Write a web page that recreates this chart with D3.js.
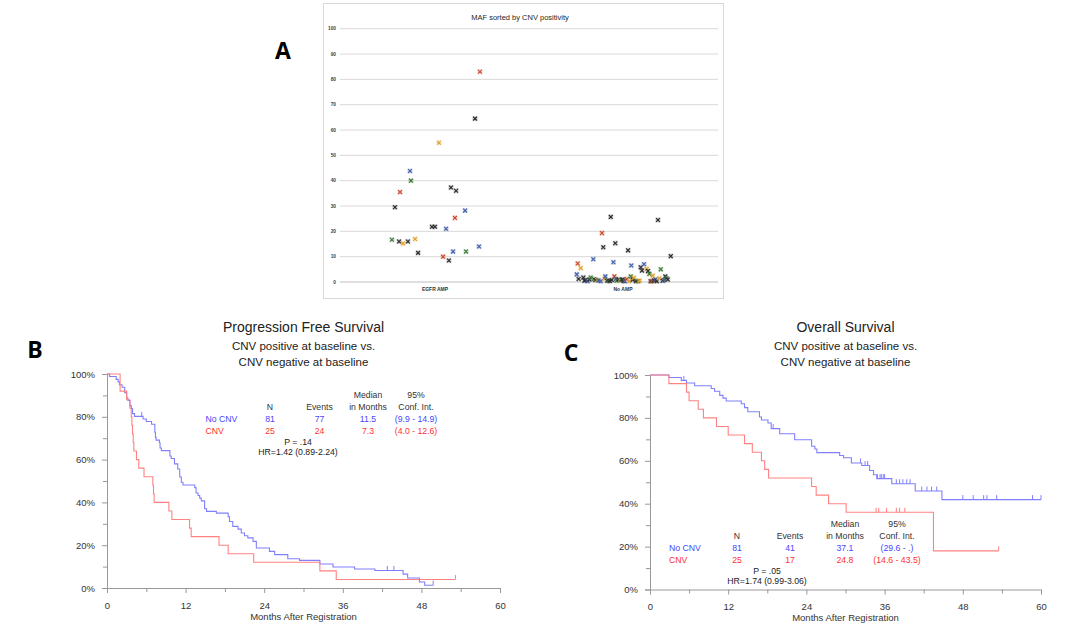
<!DOCTYPE html>
<html><head><meta charset="utf-8">
<script src="https://cdn.jsdelivr.net/npm/d3@7"></script>
<style>body{margin:0;background:#fff}svg{display:block}</style>
</head><body>
<svg id="c" width="1080" height="639"></svg>
<script>
// ---------------- Panel A data ----------------
const mafTitle = "MAF sorted by CNV positivity";
const mafCategories = ["EGFR AMP", "No AMP"];
const mafYTicks = [0,10,20,30,40,50,60,70,80,90,100];
// x = category position (1 = EGFR AMP, 2 = No AMP) with jitter, y = MAF %, g = colour group
const egfrX = [0.771,0.787,0.809,0.814,0.830,0.856,0.867,0.872,0.894,0.910,0.984,1.000,1.021,1.043,1.059,1.074,1.085,1.096,1.106,1.112,1.160,1.165,1.213,1.234,1.239];
const egfrY = [16.7,29.5,16.0,35.5,15.2,16.0,43.8,40.0,17.0,11.5,21.8,21.8,55.0,10.0,21.0,8.5,37.3,12.0,25.3,36.0,28.2,12.0,64.5,14.0,83.0];
const egfrG = ["g","k","k","r","o","k","b","g","o","k","k","k","o","r","b","k","k","b","r","k","b","g","k","b","r"];
const noAmpX = [1.754,1.759,1.764,1.775,1.789,1.795,1.801,1.812,1.822,1.828,1.842,1.846,1.853,1.863,1.870,1.881,1.888,1.895,1.902,1.906,1.916,1.924,1.930,1.935,1.940,1.949,1.954,1.959,1.962,1.966,1.977,1.988,1.992,1.998,2.003,2.009,2.020,2.027,2.034,2.041,2.044,2.052,2.059,2.069,2.081,2.088,2.094,2.101,2.112,2.126,2.133,2.140,2.147,2.154,2.158,2.165,2.172,2.180,2.186,2.193,2.201,2.211,2.218,2.225,2.232,2.238,2.254];
const noAmpY = [3.0,7.3,1.2,5.5,1.8,0.5,0.8,0.3,1.0,1.8,9.0,1.2,0.8,0.8,0.6,0.3,19.3,13.7,1.3,2.2,0.5,0.5,0.4,25.7,0.8,7.8,2.2,15.3,1.2,0.5,1.0,0.5,0.8,1.0,0.4,0.3,1.2,12.5,0.3,2.2,6.5,0.9,1.7,0.3,0.3,0.5,5.8,4.5,7.0,5.2,4.3,3.2,0.3,0.3,2.5,0.6,1.0,0.3,24.5,1.5,5.0,0.5,0.8,2.2,1.5,1.0,10.2];
const noAmpG = ["b","r","k","o","k","k","k","b","k","g","b","g","k","o","b","b","r","k","o","b","k","g","k","k","k","b","r","k","b","g","k","o","g","k","k","b","r","k","o","g","b","k","o","k","g","o","k","k","b","o","k","g","k","r","o","k","b","k","k","o","g","k","b","k","g","k","k"];

// ---------------- Kaplan-Meier data ----------------
const kmXTicks = [0,12,24,36,48,60];
const kmXMinor = [6,18,30,42,54];
const kmYTicks = [0,20,40,60,80,100];
const kmYMinor = [10,30,50,70,90];
const kmXLabel = "Months After Registration";
const groups = ["No CNV", "CNV"];

// PFS (panel B): [month, survival %]
const pfsNoCnv = [[0,100],[0.4,98.8],[1.4,97.5],[1.7,96.3],[1.9,95],[2.3,93.8],[2.7,91.3],[3.0,88.9],[3.2,87.6],[3.5,85.2],[3.7,83.9],[3.9,81.5],[4.2,80.2],[5.5,79],[6.0,77.8],[6.8,76.5],[7.3,72.8],[7.4,70.4],[7.5,69.1],[8.0,67.9],[8.1,65.4],[8.3,64.2],[9.6,61.7],[9.8,60.5],[10.3,58],[10.8,55.6],[11.1,51.9],[11.35,49.4],[11.6,48.1],[13.4,46.9],[13.6,44.4],[13.9,43.2],[14.15,42],[14.4,40.7],[14.9,37.0],[15.2,35.8],[16.7,35.0],[18.5,33.3],[18.7,31.1],[19.2,28.8],[20.0,27.5],[20.5,25.7],[21.0,24.4],[21.5,23.4],[22.3,21.8],[22.8,18.7],[24.8,17.1],[25.6,15.6],[27.6,13.7],[29.4,12.9],[32.5,11.2],[34.5,9.8],[37.8,8.9],[40.9,8.2],[45.2,6.5],[45.9,4.7],[47.7,2.8],[48.5,1.3]];
const pfsNoCnvEnd = 49.8;
const pfsNoCnvCensor = [5.3,42.8,43.8,49.8];
const pfsCnv = [[0,100],[2.0,92],[3.0,88],[3.5,84],[3.7,80],[3.8,76],[3.9,72],[4.0,68],[4.1,64],[4.5,60],[4.85,56],[5.65,52],[7.0,48],[7.1,44],[7.2,40],[9.45,36],[9.9,32],[12.6,28],[12.85,24],[17.1,20],[18.5,16],[22.4,12],[32.5,8],[35.0,4]];
const pfsCnvEnd = 53.2;
const pfsCnvCensor = [53.2];

// OS (panel C)
const osNoCnv = [[0,100],[2.9,98.8],[4.8,97.5],[5.6,96.3],[6.85,95],[9.4,93.7],[9.9,92.4],[10.7,90.5],[11.2,89.2],[11.7,87.9],[14.0,86.6],[14.5,84.8],[15.0,82.9],[16.8,80.4],[17.1,79.0],[18.1,77.6],[18.6,75.0],[19.9,72.6],[22.2,69.8],[24.8,66.8],[25.3,65.5],[25.6,63.8],[29.1,62.5],[29.7,61.4],[30.9,59],[32.5,57.8],[33.7,55.5],[34.3,53.5],[34.8,51.7],[37.1,49.3],[40.7,45.9],[44.8,41.9]];
const osNoCnvEnd = 60;
const osNoCnvCensor = [5.2,18.9,32.3,33.0,33.4,34.9,35.3,35.5,35.8,36.0,37.8,38.3,38.8,39.4,39.9,41.7,42.5,43.2,44.0,48.0,49.6,51.2,51.7,53.2,58.7,60];
const osCnv = [[0,100],[2.9,96],[5.6,92],[6.0,88],[7.4,84],[8.2,80],[10.2,76],[12.0,72],[14.5,68],[15.7,64],[17.1,60],[17.6,56],[18.2,52],[24.8,48],[25.5,44],[27.4,40],[30.1,36],[43.5,18]];
const osCnvEnd = 53.5;
const osCnvCensor = [34.7,35.1,36.3,37.8,38.3,39.1,53.5];

// tables
const tableHead1 = ["", "", "", "Median", "95%"];
const tableHead2 = ["", "N", "Events", "in Months", "Conf. Int."];
const pfsRows = [["No CNV","81","77","11.5","(9.9 - 14.9)"],["CNV","25","24","7.3","(4.0 - 12.6)"]];
const pfsStats = ["P = .14", "HR=1.42 (0.89-2.24)"];
const osRows = [["No CNV","81","41","37.1","(29.6 - .)"],["CNV","25","17","24.8","(14.6 - 43.5)"]];
const osStats = ["P = .05", "HR=1.74 (0.99-3.06)"];

// ---------------- drawing ----------------
const svg = d3.select("#c");
const FONT = "'Liberation Sans', Arial, sans-serif";
const BLUE_T = "#4646ff", RED_T = "#ff3030";
const BLUE_L = "#8080ff", RED_L = "#ff8282";

// Panel letters
[["A",283,59],["B",35,358],["C",571,361]].forEach(([t,x,y]) => {
  svg.append("text").attr("x",x).attr("y",y).attr("text-anchor","middle")
    .attr("font-family","'Open Sans', 'Liberation Sans', sans-serif").attr("font-weight","bold")
    .attr("font-size",23).attr("fill","#000").text(t);
});

// ---------- Panel A ----------
(function(){
  const gA = svg.append("g");
  gA.append("rect").attr("x",323.5).attr("y",3.5).attr("width",400).attr("height",295)
    .attr("fill","#fff").attr("stroke","#d9d9d9");
  gA.append("text").attr("x",520).attr("y",19.5).attr("text-anchor","middle")
    .attr("font-family",FONT).attr("font-size",7.5).attr("fill","#262626").text(mafTitle);
  const x = d3.scaleLinear().domain([0.5,2.5]).range([341,717]);
  const y = d3.scaleLinear().domain([0,100]).range([282,28.7]);
  mafYTicks.forEach(t => {
    gA.append("line").attr("x1",340).attr("x2",718).attr("y1",y(t)).attr("y2",y(t))
      .attr("stroke", t===0 ? "#bfbfbf" : "#d9d9d9").attr("stroke-width",1);
    gA.append("text").attr("x",336).attr("y",y(t)).attr("dy","0.35em").attr("text-anchor","end")
      .attr("font-family",FONT).attr("font-size",4.8).attr("font-weight","bold").attr("fill","#404040").text(t);
  });
  mafCategories.forEach((c,i) => {
    gA.append("text").attr("x",x(i+1)).attr("y",291).attr("text-anchor","middle")
      .attr("font-family",FONT).attr("font-size",5).attr("font-weight","bold").attr("fill","#333").text(c);
  });
  const col = d3.scaleOrdinal().domain(["k","b","r","o","g"])
    .range(["#2b2b2b","#3f5fa8","#c84b2b","#e3a12a","#3e7b37"]);
  const pts = egfrX.map((v,i)=>({x:v,y:egfrY[i],g:egfrG[i]}))
    .concat(noAmpX.map((v,i)=>({x:v,y:noAmpY[i],g:noAmpG[i]})));
  const s = 1.9;
  const mk = gA.selectAll("g.pt").data(pts).enter().append("g")
    .attr("transform", d => `translate(${x(d.x)},${y(d.y)})`);
  mk.append("rect").attr("x",-2.6).attr("y",-2.6).attr("width",5.2).attr("height",5.2)
    .attr("fill", d=>col(d.g)).attr("opacity",0.2);
  mk.append("path").attr("d",`M${-s},${-s}L${s},${s}M${-s},${s}L${s},${-s}`)
    .attr("stroke", d=>col(d.g)).attr("stroke-width",1.15).attr("fill","none");
})();

// ---------- KM panels ----------
function drawKM(cfg){
  const g = svg.append("g");
  const x = d3.scaleLinear().domain([0,60]).range([cfg.x0,cfg.x1]);
  const y = d3.scaleLinear().domain([0,100]).range([cfg.y0,cfg.y1]);
  const cx = (cfg.x0+cfg.x1)/2;
  g.append("text").attr("x",cx).attr("y",cfg.ty).attr("text-anchor","middle")
    .attr("font-family",FONT).attr("font-size",14).attr("fill","#222").text(cfg.title);
  cfg.sub.forEach((s,i)=>{
    g.append("text").attr("x",cx).attr("y",cfg.ty+18+i*15.5).attr("text-anchor","middle")
      .attr("font-family",FONT).attr("font-size",11.5).attr("fill","#222").text(s);
  });
  const axC = "#999";
  const ya = g.append("g").attr("transform",`translate(${cfg.x0},0)`)
    .call(d3.axisLeft(y).tickValues(kmYTicks).tickSize(5).tickPadding(7).tickFormat(d=>d+"%"));
  const yam = g.append("g").attr("transform",`translate(${cfg.x0},0)`)
    .call(d3.axisLeft(y).tickValues(kmYMinor).tickSize(4).tickFormat(""));
  const xa = g.append("g").attr("transform",`translate(0,${cfg.y0})`)
    .call(d3.axisBottom(x).tickValues(kmXTicks).tickSize(5).tickPadding(9));
  const xam = g.append("g").attr("transform",`translate(0,${cfg.y0})`)
    .call(d3.axisBottom(x).tickValues(kmXMinor).tickSize(4).tickFormat(""));
  [ya,yam,xa,xam].forEach(a=>{
    a.selectAll("path,line").attr("stroke",axC);
    a.selectAll("text").attr("font-family",FONT).attr("font-size",9.5).attr("fill","#333");
    a.select(".domain").attr("stroke",axC);
  });
  yam.select(".domain").remove(); xam.select(".domain").remove();
  g.append("text").attr("x",cx).attr("y",cfg.y0+31.5).attr("text-anchor","middle")
    .attr("font-family",FONT).attr("font-size",9.5).attr("fill","#333").text(kmXLabel);
  const line = d3.line().x(d=>x(d[0])).y(d=>y(d[1])).curve(d3.curveStepAfter);
  cfg.curves.forEach(c=>{
    const pts = c.data.concat([[c.end, c.data[c.data.length-1][1]]]);
    g.append("path").attr("d",line(pts)).attr("fill","none").attr("stroke",c.color).attr("stroke-width",1.1);
    const level = t => { let v=100; c.data.forEach(d=>{ if(d[0]<=t) v=d[1]; }); return v; };
    c.censor.forEach(t=>{
      g.append("line").attr("x1",x(t)).attr("x2",x(t)).attr("y1",y(level(t))).attr("y2",y(level(t))-4.5)
        .attr("stroke",c.color).attr("stroke-width",1);
    });
  });
  const T = cfg.table;
  const txt = (s,xx,yy,color,anchor) => g.append("text").attr("x",xx).attr("y",yy).attr("dy","0.35em")
    .attr("text-anchor",anchor||"middle").attr("font-family",FONT).attr("font-size",8.7).attr("fill",color).text(s);
  [tableHead1, tableHead2].forEach((row,ri)=>{
    row.forEach((s,ci)=>{ if(ci>0 && s) txt(s,T.cols[ci-1],T.y+ri*11.5,"#333"); });
  });
  T.rows.forEach((row,ri)=>{
    const color = ri===0 ? BLUE_T : RED_T;
    const yy = T.y + 23.5 + ri*12;
    txt(row[0], T.lx, yy, color, "start");
    row.slice(1).forEach((s,ci)=>txt(s,T.cols[ci],yy,color));
  });
  txt(T.stats[0], T.sx, T.y+47, "#222");
  txt(T.stats[1], T.sx, T.y+57, "#222");
}

drawKM({
  x0:107, x1:500, y0:588, y1:374, ty:332, title:"Progression Free Survival",
  sub:["CNV positive at baseline vs.","CNV negative at baseline"],
  curves:[
    {data:pfsNoCnv,end:pfsNoCnvEnd,censor:pfsNoCnvCensor,color:BLUE_L},
    {data:pfsCnv,end:pfsCnvEnd,censor:pfsCnvCensor,color:RED_L}
  ],
  table:{y:395, cols:[270,319.5,368,416], lx:205.5, rows:pfsRows, stats:pfsStats, sx:298}
});
drawKM({
  x0:650, x1:1041, y0:589.5, y1:375, ty:332, title:"Overall Survival",
  sub:["CNV positive at baseline vs.","CNV negative at baseline"],
  curves:[
    {data:osNoCnv,end:osNoCnvEnd,censor:osNoCnvCensor,color:BLUE_L},
    {data:osCnv,end:osCnvEnd,censor:osCnvCensor,color:RED_L}
  ],
  table:{y:524, cols:[737,790,845,897], lx:669, rows:osRows, stats:osStats, sx:767}
});
</script>
</body></html>
